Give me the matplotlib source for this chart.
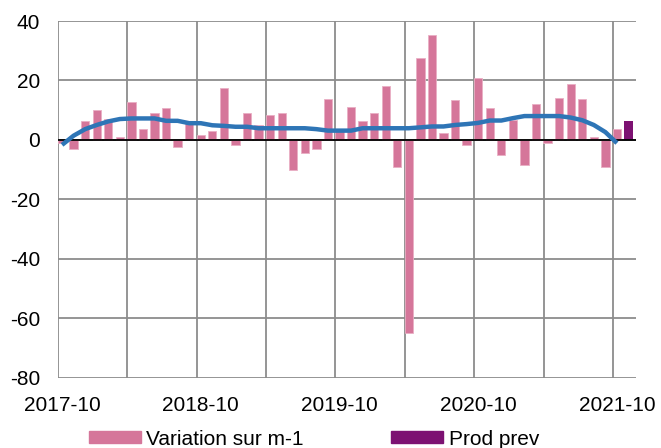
import matplotlib
matplotlib.use("Agg")
import matplotlib.pyplot as plt
from matplotlib.patches import Patch

plt.rcParams['font.family'] = ['Liberation Sans', 'DejaVu Sans']
plt.rcParams['axes.unicode_minus'] = False

# Months 2017-10 .. 2021-11
months = []
y, m = 2017, 10
for _ in range(50):
    months.append(f"{y}-{m:02d}")
    m += 1
    if m > 12:
        m = 1
        y += 1

variation = [-1.0, -3.0, 6.4, 9.9, 7.1, 1.0, 12.6, 3.7, 9.1, 10.6,
             -2.4, 5.6, 1.7, 3.0, 17.4, -1.7, 9.1, 5.1, 8.4, 9.1,
             -10.0, -4.5, -3.1, 13.9, 3.0, 11.2, 6.4, 9.1, 18.1, -9.3,
             -65.0, 27.7, 35.4, 2.2, 13.4, -1.7, 20.9, 10.6, -5.2, 6.7,
             -8.6, 12.0, -0.9, 14.0, 18.8, 13.9, 1.0, -9.3, 3.7]

prod_prev = [6.4]  # 2021-11

trend = [-1.7, 1.4, 3.6, 5.0, 6.2, 7.0, 7.2, 7.2, 7.2, 6.4,
         6.4, 5.6, 5.6, 4.9, 4.7, 4.4, 4.4, 3.9, 3.9, 3.9,
         3.9, 3.9, 3.6, 3.1, 3.1, 3.1, 3.9, 3.9, 3.9, 3.9,
         3.9, 4.2, 4.5, 4.5, 5.0, 5.3, 5.7, 6.5, 6.5, 7.3,
         8.0, 8.0, 8.0, 8.0, 7.5, 6.6, 5.0, 2.6, -1.1]

tick_labels = ["2017-10", "2018-10", "2019-10", "2020-10", "2021-10"]

fig = plt.figure(figsize=(6.61, 4.48), dpi=100)
ax = fig.add_axes([58/661, 1-377.5/448, (636-58)/661, (377.5-21)/448])

x_var = list(range(len(variation)))
x_prev = [months.index("2021-11")]
pink = "#D5769A"
purple = "#7D1172"
ax.bar(x_var, variation, width=0.72, color=pink, edgecolor="#E9AFC4",
       linewidth=0.6, zorder=2)
ax.bar(x_prev, prod_prev, width=0.72, color=purple, zorder=2)
ax.axhline(0, color="black", lw=1.3, zorder=3)
ax.plot(range(len(trend)), trend, color="#2E75B6", lw=3.2, zorder=4,
        solid_capstyle="butt")

ax.set_xlim(-0.35, 49.65)
ax.set_ylim(-80, 40)
ax.set_yticks([-80, -60, -40, -20, 0, 20, 40])
ax.set_xticks([months.index(t) for t in tick_labels])
ax.set_xticklabels(tick_labels)
ax.set_xticks([-0.35 + 6 * k for k in range(9)], minor=True)
ax.grid(axis='y', color="#8C8C8C", lw=1.3, zorder=0)
ax.grid(axis='x', which='minor', color="#8C8C8C", lw=1.3, zorder=0)
ax.grid(axis='x', which='major', visible=False)
for s in ax.spines.values():
    s.set_visible(False)
ax.tick_params(axis='both', which='both', length=0, labelsize=15)
ax.tick_params(axis='x', pad=13)
ax.tick_params(axis='y', pad=13)
ax.set_axisbelow(True)

handles = [Patch(color=pink, label="Variation sur m-1"),
           Patch(color=purple, label="Prod prev")]
fig.legend(handles=handles, loc="center", bbox_to_anchor=(0.475, 1-439/448),
           ncol=2, frameon=False, fontsize=15, handlelength=2.5,
           handleheight=0.48, handletextpad=0.25, columnspacing=4.2)

fig.savefig("out.png", dpi=100)
